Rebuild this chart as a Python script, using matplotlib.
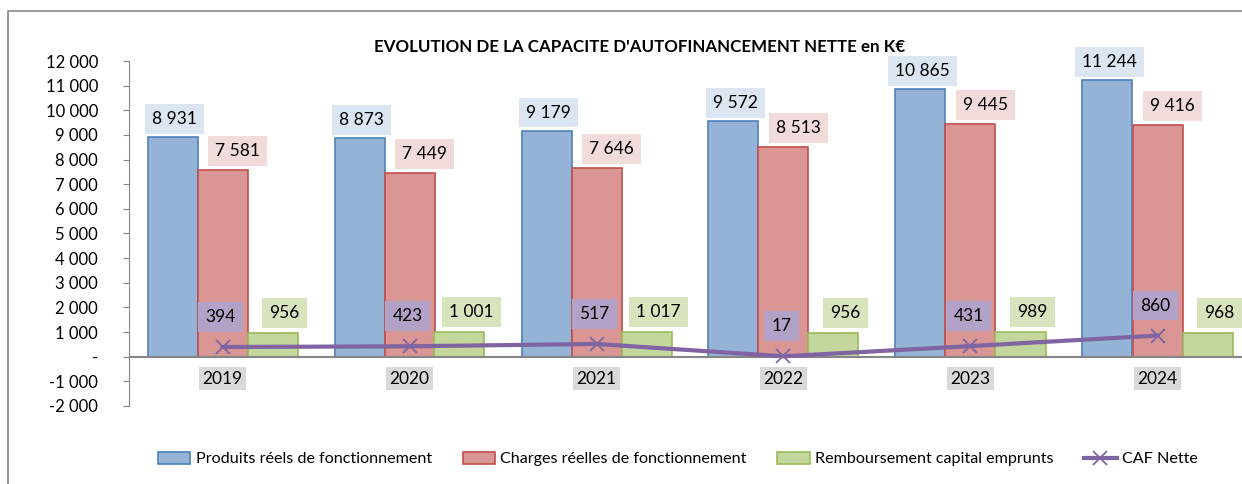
import matplotlib.pyplot as plt
from matplotlib.patches import Rectangle
from matplotlib.lines import Line2D

plt.rcParams['font.family'] = ['Lato', 'DejaVu Sans']

annees = ['2019', '2020', '2021', '2022', '2023', '2024']
produits = [8931, 8873, 9179, 9572, 10865, 11244]
charges = [7581, 7449, 7646, 8513, 9445, 9416]
remboursement = [956, 1001, 1017, 956, 989, 968]
caf = [394, 423, 517, 17, 431, 860]

titre = "EVOLUTION DE LA CAPACITE D'AUTOFINANCEMENT NETTE en K€"
noms = ['Produits réels de fonctionnement', 'Charges réelles de fonctionnement',
        'Remboursement capital emprunts', 'CAF Nette']


def fmt(v):
    if v == 0:
        return '-'
    s = f"{abs(int(v)):,}".replace(',', ' ')
    return ('-' if v < 0 else '') + s


# ---------------------------------------------------------------------------

W, H = 1242, 484
fig = plt.figure(figsize=(W / 100, H / 100), dpi=100)
ax = fig.add_axes([129 / W, 1 - 406 / H, 1 - 129 / W, (406 - 61) / H])

# cadre du graphique
fig.patches.append(Rectangle((8 / W, -0.1), 1.1, 1 - 11 / H + 0.1, transform=fig.transFigure,
                             fill=False, edgecolor='#898989', linewidth=1.2))

largeur = 50 / 187
x = list(range(len(annees)))

bleu = ax.bar([i - largeur for i in x], produits, largeur, color='#95B3D7', edgecolor='#4F81BD', linewidth=1.2, zorder=2)
rouge = ax.bar(x, charges, largeur, color='#D99694', edgecolor='#C0504D', linewidth=1.2, zorder=2)
vert = ax.bar([i + largeur for i in x], remboursement, largeur, color='#C3D69B', edgecolor='#9BBB59', linewidth=1.2, zorder=2)
ax.axhline(0, color='#868686', linewidth=1.5, zorder=3)
ligne, = ax.plot(x, caf, color='#8064A2', linewidth=3, marker='x', markersize=10,
                 markeredgewidth=1.3, zorder=4)

fs = 12.5
for i in x:
    ax.annotate(fmt(produits[i]), (i - largeur, produits[i]), xytext=(2, 18), textcoords='offset pixels',
                ha='center', va='center', fontsize=fs, zorder=5,
                bbox=dict(boxstyle='square,pad=0.4', fc='#DCE6F2', ec='none'))
    ax.annotate(fmt(charges[i]), (i, charges[i]), xytext=(15, 19), textcoords='offset pixels',
                ha='center', va='center', fontsize=fs, zorder=5,
                bbox=dict(boxstyle='square,pad=0.4', fc='#F2DCDB', ec='none'))
    ax.annotate(fmt(remboursement[i]), (i + largeur, remboursement[i]), xytext=(12, 20), textcoords='offset pixels',
                ha='center', va='center', fontsize=fs, zorder=5,
                bbox=dict(boxstyle='square,pad=0.4', fc='#D7E4BD', ec='none'))
    ax.annotate(fmt(caf[i]), (i, caf[i]), xytext=(-2, 30), textcoords='offset pixels',
                ha='center', va='center', fontsize=fs, zorder=5,
                bbox=dict(boxstyle='square,pad=0.4', fc='#B3A2C7', ec='none'))
    ax.annotate(annees[i], (i, 0), xytext=(0, -22), textcoords='offset pixels',
                ha='center', va='center', fontsize=fs, zorder=5,
                bbox=dict(boxstyle='square,pad=0.2', fc='#D9D9D9', ec='none'))

ax.set_xlim(-0.5, -0.5 + (W - 129) / 187)
ax.set_ylim(-2000, 12000)
ticks = list(range(-2000, 12001, 1000))
ax.set_yticks(ticks)
ax.set_yticklabels([fmt(t) for t in ticks], fontsize=12)
ax.set_xticks([])
for s in ['top', 'right', 'bottom']:
    ax.spines[s].set_visible(False)
ax.spines['left'].set_color('#868686')
ax.spines['left'].set_bounds(-2000, 12000)
ax.tick_params(axis='y', direction='out', length=4.3, color='#868686', pad=18)

fig.text(640 / W, 1 - 47 / H, titre, ha='center', va='center', fontsize=12.2, fontweight='bold')

handles = [bleu, rouge, vert,
           Line2D([], [], color='#8064A2', linewidth=3, marker='x', markersize=10, markeredgewidth=1.3)]
fig.legend(handles, noms, loc='center', bbox_to_anchor=(678 / W, 1 - 459 / H), ncol=4,
           frameon=False, fontsize=11.6, handlelength=2.0, handleheight=0.8, columnspacing=1.9,
           handletextpad=0.35)

plt.savefig('out.png', dpi=100)
